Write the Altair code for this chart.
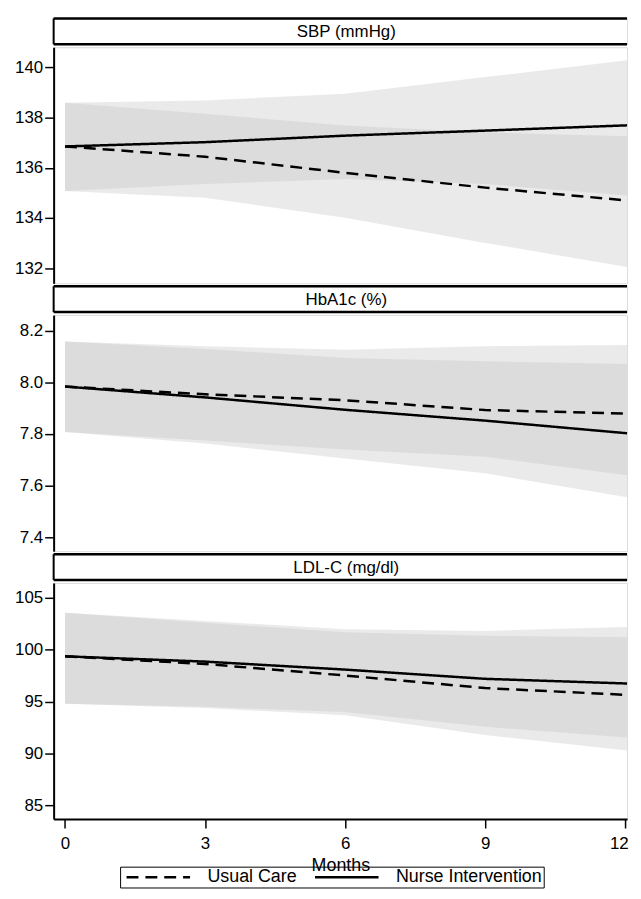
import altair as alt
import pandas as pd

FONT = "Liberation Sans"

months = [0, 3, 6, 9, 12.04]
groups = ["Usual Care", "Nurse Intervention"]

# SBP (mmHg)
sbp_usual = [136.85, 136.44, 135.80, 135.21, 134.70]
sbp_nurse = [136.85, 137.02, 137.28, 137.48, 137.69]
sbp_usual_lo = [135.08, 134.81, 134.01, 133.01, 132.05]
sbp_usual_hi = [138.59, 138.15, 137.68, 137.41, 137.26]
sbp_nurse_lo = [135.08, 135.35, 135.55, 135.35, 134.90]
sbp_nurse_hi = [138.59, 138.68, 138.95, 139.61, 140.28]

# HbA1c (%)
a1c_usual = [7.984, 7.954, 7.931, 7.893, 7.879]
a1c_nurse = [7.984, 7.942, 7.894, 7.852, 7.803]
a1c_usual_lo = [7.808, 7.775, 7.740, 7.712, 7.640]
a1c_usual_hi = [8.159, 8.140, 8.127, 8.140, 8.145]
a1c_nurse_lo = [7.808, 7.763, 7.705, 7.648, 7.555]
a1c_nurse_hi = [8.159, 8.130, 8.095, 8.082, 8.071]

# LDL-C (mg/dl)
ldl_usual = [99.37, 98.63, 97.52, 96.31, 95.65]
ldl_nurse = [99.37, 98.86, 98.09, 97.20, 96.75]
ldl_usual_lo = [94.81, 94.39, 93.69, 91.78, 90.30]
ldl_usual_hi = [103.57, 102.60, 101.70, 101.34, 101.20]
ldl_nurse_lo = [94.81, 94.50, 94.00, 92.58, 91.55]
ldl_nurse_hi = [103.57, 102.78, 101.98, 101.82, 102.19]

panel_titles = ["SBP (mmHg)", "HbA1c (%)", "LDL-C (mg/dl)"]
x_ticks = [0, 3, 6, 9, 12]


def make_df(usual, nurse, ulo, uhi, nlo, nhi):
    rows = []
    for g, mean, lo, hi in [(groups[0], usual, ulo, uhi), (groups[1], nurse, nlo, nhi)]:
        for m, v, l, h in zip(months, mean, lo, hi):
            rows.append(dict(month=m, group=g, mean=v, lo=l, hi=h))
    return pd.DataFrame(rows)


W = 578
HH = 26
PH = 238
X_DOMAIN = [-0.244, 12.04]
LW = 2.5


def header(title):
    base = alt.Chart(pd.DataFrame({"t": [title]}))
    text = base.mark_text(fontSize=17, font=FONT, color="black", baseline="middle").encode(
        x=alt.value(295), y=alt.value(HH / 2 + 1), text="t:N")
    top = base.mark_rule(color="black", strokeWidth=LW).encode(
        x=alt.value(0), x2=alt.value(W), y=alt.value(0))
    bottom = base.mark_rule(color="black", strokeWidth=LW).encode(
        x=alt.value(0), x2=alt.value(W), y=alt.value(HH))
    left = base.mark_rule(color="black", strokeWidth=2).encode(
        x=alt.value(0), y=alt.value(0), y2=alt.value(HH))
    return alt.layer(top, bottom, left, text).properties(width=W, height=HH)


def panel(df, domain, ticks, fmt, show_x):
    if show_x:
        xaxis = alt.Axis(values=x_ticks, title="Months", labelFontSize=17, titleFontSize=18,
                         titleFontWeight="normal", domainColor="black", domainWidth=2,
                         tickColor="black", tickSize=9, tickWidth=1.5, labelPadding=8,
                         titlePadding=5, grid=False, labelColor="black", titleColor="black",
                         labelFont=FONT, titleFont=FONT, labelFlush=5, labelFlushOffset=3)
    else:
        xaxis = None
    x = alt.X("month:Q", scale=alt.Scale(domain=X_DOMAIN, nice=False, zero=False), axis=xaxis)
    yaxis = alt.Axis(values=ticks, format=fmt, title=None, labelFontSize=17, labelFont=FONT,
                     labelColor="black", domainColor="black", domainWidth=2, tickColor="black",
                     tickSize=9, tickWidth=1.5, labelPadding=2, grid=False,
                     minExtent=40, maxExtent=40)
    yscale = alt.Scale(domain=domain, nice=False, zero=False)
    bands = alt.Chart(df).mark_area(fill="#c4c4c4", opacity=0.36).encode(
        x=x,
        y=alt.Y("lo:Q", scale=yscale, axis=yaxis, title=None),
        y2="hi:Q",
        detail="group:N",
    )
    lines = alt.Chart(df).mark_line(color="black", strokeWidth=LW).encode(
        x=x,
        y=alt.Y("mean:Q", scale=yscale, axis=yaxis, title=None),
        strokeDash=alt.StrokeDash(
            "group:N",
            scale=alt.Scale(domain=groups, range=[[12, 7], [1, 0]]),
            legend=alt.Legend(orient="none", legendX=67, legendY=855, direction="horizontal",
                              title=None, strokeColor="black", padding=1,
                              symbolType="M-4,0H4", symbolSize=256, symbolStrokeWidth=2.5,
                              symbolFillColor="transparent", symbolDash=[13, 8],
                              symbolStrokeColor="black", symbolOffset=28,
                              labelFontSize=18, labelFont=FONT,
                              labelColor="black", columnPadding=12, labelOffset=40),
        ),
    )
    return alt.layer(bands, lines).properties(width=W, height=PH)


df_sbp = make_df(sbp_usual, sbp_nurse, sbp_usual_lo, sbp_usual_hi, sbp_nurse_lo, sbp_nurse_hi)
df_a1c = make_df(a1c_usual, a1c_nurse, a1c_usual_lo, a1c_usual_hi, a1c_nurse_lo, a1c_nurse_hi)
df_ldl = make_df(ldl_usual, ldl_nurse, ldl_usual_lo, ldl_usual_hi, ldl_nurse_lo, ldl_nurse_hi)

chart = alt.vconcat(
    header(panel_titles[0]),
    panel(df_sbp, [131.4, 140.8], [132, 134, 136, 138, 140], "d", False),
    header(panel_titles[1]),
    panel(df_a1c, [7.346, 8.261], [7.4, 7.6, 7.8, 8.0, 8.2], ".1f", False),
    header(panel_titles[2]),
    panel(df_ldl, [83.69, 106.44], [85, 90, 95, 100, 105], "d", True),
    spacing=0,
).properties(
    padding={"left": 5, "top": 5, "right": 0, "bottom": 0}
).configure_view(stroke=None).configure(background="white")

chart.save("out.html", embed_options={"renderer": "svg", "actions": False})
